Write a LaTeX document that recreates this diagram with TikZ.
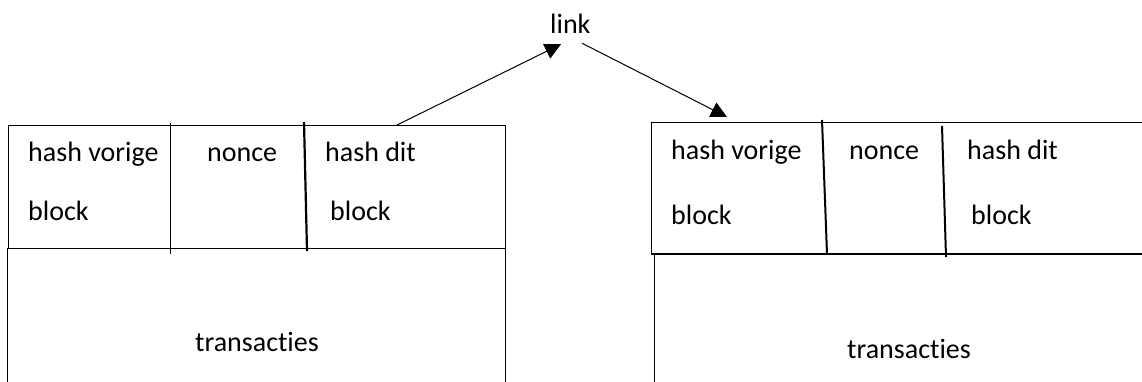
\documentclass[tikz,border=0pt]{standalone}
\usepackage{fontspec}
\setmainfont{Carlito}[Ligatures=NoCommon]
\usetikzlibrary{arrows.meta, positioning}

\begin{document}
\begin{tikzpicture}[
    x=1pt, y=-1pt,
    every node/.style={font=\fontsize{28}{34}\selectfont, inner sep=0pt},
    lbl/.style={anchor=base west},
    frame/.style={draw=black, line width=1pt},
    divider/.style={draw=black, line width=2.2pt},
    arrow/.style={-{Triangle[length=16pt,width=16pt]}, line width=1pt}
]
\useasboundingbox (0,0) rectangle (1142,381);
\clip (0,0) rectangle (1142,381);

% left block
\draw[frame] (8,125) rectangle (505,248);
\draw[frame] (7,248) -- (7,395);
\draw[frame] (505,248) -- (505,395);
\draw[frame] (170,123) -- (170,254);
\draw[divider] (304,122) -- (307,251);
\node[lbl] (prevA) at (28,161) {hash vorige};
\node[lbl] (prevAb) at (28,220) {block};
\node[lbl] (nonceA) at (207,161) {nonce};
\node[lbl] (hashA) at (325,161) {hash dit};
\node[lbl] (hashAb) at (330,220) {block};
\node[lbl] (txA) at (195,351) {transacties};

% right block
\draw[frame] (651,122) rectangle (1160,254);
\draw[line width=2pt] (651,254) -- (1160,254);
\draw[frame] (654,254) -- (654,395);
\draw[divider, line width=2pt] (822,120) -- (827,254);
\draw[divider, line width=2pt] (942,126) -- (946,257);
\node[lbl] (prevB) at (671,159) {hash vorige};
\node[lbl] (prevBb) at (671,224) {block};
\node[lbl] (nonceB) at (849,159) {nonce};
\node[lbl] (hashB) at (967,159) {hash dit};
\node[lbl] (hashBb) at (971,224) {block};
\node[lbl] (txB) at (847,358) {transacties};

% link
\node[lbl] (link) at (550,33) {link};
\coordinate (outA) at (397,125);
\coordinate (inB) at (727,117);
\coordinate (linkin) at ([xshift=11pt,yshift=-11pt]link.south west);
\coordinate (linkout) at ([xshift=32pt,yshift=-10pt]link.south west);
\draw[arrow] (outA) -- (linkin);
\draw[arrow] (linkout) -- (inB);
\end{tikzpicture}
\end{document}
